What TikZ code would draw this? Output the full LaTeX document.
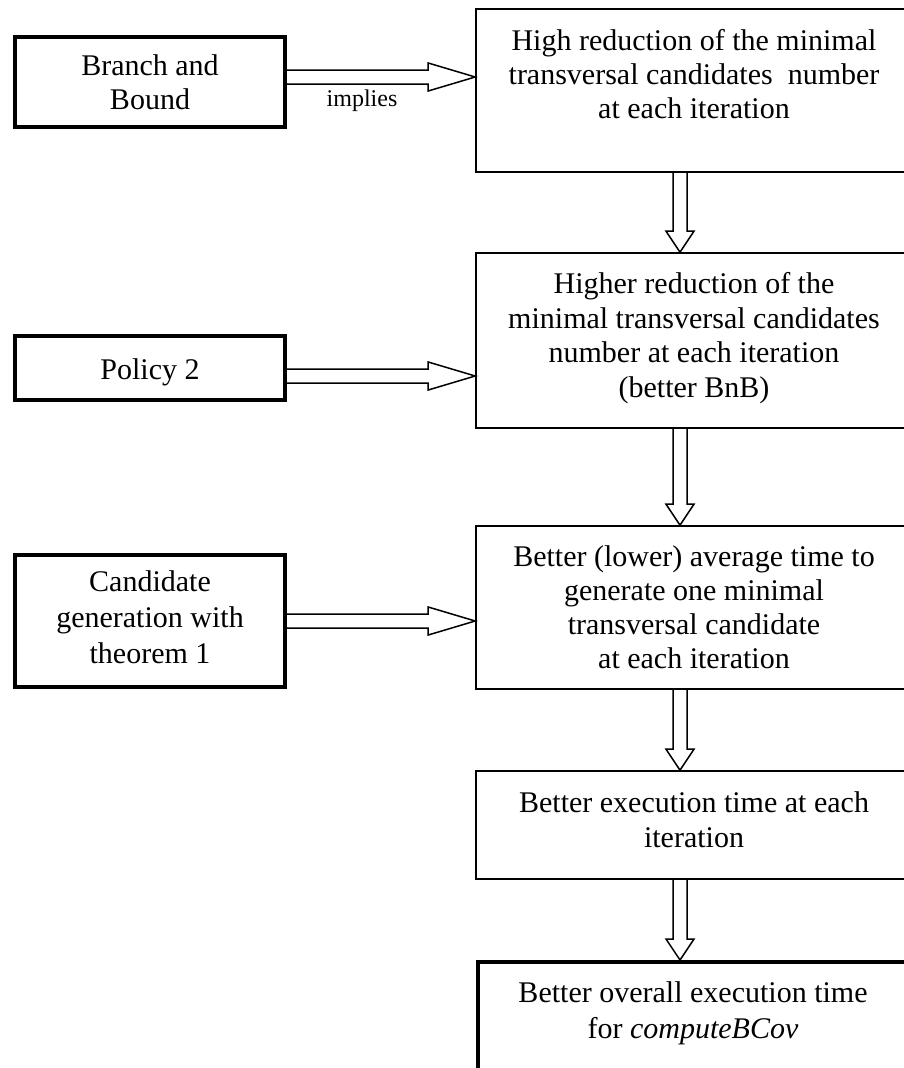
\documentclass[tikz,border=0pt]{standalone}
\usepackage{fontspec}
\setmainfont{Liberation Serif}
\usetikzlibrary{calc}
\tikzset{
  box/.style={draw, line width=1.6pt, align=center, inner sep=0pt,
              font=\fontsize{30}{34.5}\selectfont},
  thickbox/.style={box, line width=4pt},
  arrline/.style={line width=1.5pt},
  lbl/.style={font=\fontsize{24}{28}\selectfont, inner sep=0pt}
}
\newcommand\harrow[3]{%
  \draw[arrline] let \p1=(#1.east), \p2=(#2.west), \p3=(0,#3) in
    (\x1,\y3+7pt) -- (\x2-47pt,\y3+7pt) -- (\x2-47pt,\y3+14pt) -- (\x2,\y3)
    -- (\x2-47pt,\y3-14pt) -- (\x2-47pt,\y3-7pt) -- (\x1,\y3-7pt);}
\newcommand\varrow[2]{%
  \draw[arrline] let \p1=(#1.south), \p2=(#2.north), \p3=(680,0) in
    (\x3-7pt,\y1) -- (\x3-7pt,\y2+21pt) -- (\x3-14pt,\y2+21pt) -- (\x3,\y2)
    -- (\x3+14pt,\y2+21pt) -- (\x3+7pt,\y2+21pt) -- (\x3+7pt,\y1);}
\begin{document}
\begin{tikzpicture}[x=1pt,y=-1pt]
\useasboundingbox (0,0) rectangle (903,1068);

% left boxes
\node[thickbox, minimum width=270pt, minimum height=90pt] (bb) at (150,82)
  {Branch and\\Bound};
\node[thickbox, minimum width=270pt, minimum height=64pt] (p2) at (150,368)
  {\rule{0pt}{28.5pt}Policy 2};
\node[thickbox, minimum width=270pt, minimum height=132pt,
      font=\fontsize{30}{36}\selectfont] (cg) at (150,621)
  {Candidate\\generation with\\theorem 1\rule[-7pt]{0pt}{7pt}};

% right boxes
\node[box, minimum width=436pt, minimum height=163pt,
      font=\fontsize{30}{34}\selectfont] (hr) at (694,90.5)
  {High reduction of the minimal\\transversal candidates~ number\\at each iteration\rule[-33.5pt]{0pt}{33.5pt}};
\node[box, minimum width=436pt, minimum height=175pt] (hh) at (694,340.5)
  {Higher reduction of the\\minimal transversal candidates\\number at each iteration\\(better BnB)\rule[-11pt]{0pt}{11pt}};
\node[box, minimum width=436pt, minimum height=163pt,
      font=\fontsize{30}{34}\selectfont] (bl) at (694,607.5)
  {Better (lower) average time to\\generate one minimal\\transversal candidate\\at each iteration};
\node[box, minimum width=436pt, minimum height=108pt,
      font=\fontsize{30}{35}\selectfont] (ex) at (694,825)
  {Better execution time at each\\iteration\rule[-10pt]{0pt}{10pt}};
\node[thickbox, minimum width=430pt, minimum height=138pt,
      font=\fontsize{30}{36}\selectfont] (ov) at (693,1031)
  {Better overall execution time\\for \textit{computeBCov}\rule[-41pt]{0pt}{41pt}};

% connectors
\harrow{bb}{hr}{77}
\harrow{p2}{hh}{376}
\harrow{cg}{bl}{621}
\node[lbl, anchor=base] (imp) at (362,106) {implies};

\varrow{hr}{hh}
\varrow{hh}{bl}
\varrow{bl}{ex}
\varrow{ex}{ov}
\end{tikzpicture}
\end{document}
